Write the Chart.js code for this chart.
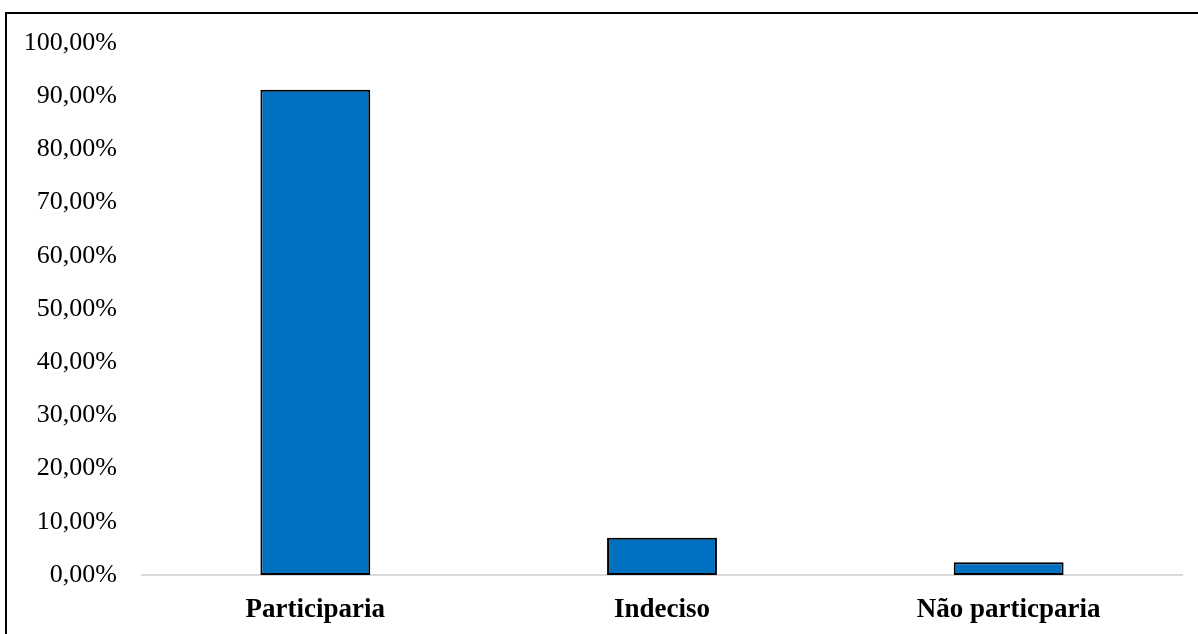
<!DOCTYPE html>
<html>
<head>
<meta charset="utf-8">
<script src="https://cdn.jsdelivr.net/npm/chart.js@4.4.1/dist/chart.umd.min.js"></script>
<style>
  html, body { margin: 0; padding: 0; background: #fff; overflow: hidden; }
  #wrap { position: relative; width: 1198px; height: 634px; }
  #frame {
    position: absolute; left: 5px; top: 12px; width: 1300px; height: 700px;
    border-left: 2px solid #000; border-top: 2px solid #000; pointer-events: none;
  }
</style>
</head>
<body>
<div id="wrap">
  <canvas id="chart" width="1198" height="634"></canvas>
  <div id="frame"></div>
</div>
<script>
const categories = ['Participaria', 'Indeciso', 'Não particparia'];
const shares = [91.2, 7.0, 2.4];
const yTicks = [0, 10, 20, 30, 40, 50, 60, 70, 80, 90, 100];

function pct(v) {
  return v.toFixed(2).replace('.', ',') + '%';
}

const ctx = document.getElementById('chart').getContext('2d');
new Chart(ctx, {
  type: 'bar',
  data: {
    labels: categories,
    datasets: [{
      data: shares,
      backgroundColor: '#0070C0',
      borderColor: '#000',
      borderWidth: 2,
      borderSkipped: false,
      barPercentage: 0.317,
      categoryPercentage: 1
    }]
  },
  options: {
    responsive: false,
    animation: false,
    layout: { padding: { top: 43, right: 16, bottom: 0, left: 0 } },
    plugins: { legend: { display: false }, tooltip: { enabled: false } },
    scales: {
      x: {
        grid: { display: false, drawTicks: false },
        border: { display: true, color: '#d9d9d9', width: 2 },
        ticks: {
          color: '#000',
          padding: 19,
          font: { family: 'Liberation Serif', size: 27, weight: 'bold' }
        },
        afterFit(scale) { scale.height = 59; }
      },
      y: {
        min: 0,
        max: 100,
        grid: { display: false, drawTicks: false },
        border: { display: false },
        afterBuildTicks(scale) { scale.ticks = yTicks.map(v => ({ value: v })); },
        ticks: {
          color: '#000',
          padding: 25,
          font: { family: 'Liberation Serif', size: 26 },
          callback: v => pct(v)
        },
        afterFit(scale) { scale.width = 142; }
      }
    }
  }
});
</script>
</body>
</html>
